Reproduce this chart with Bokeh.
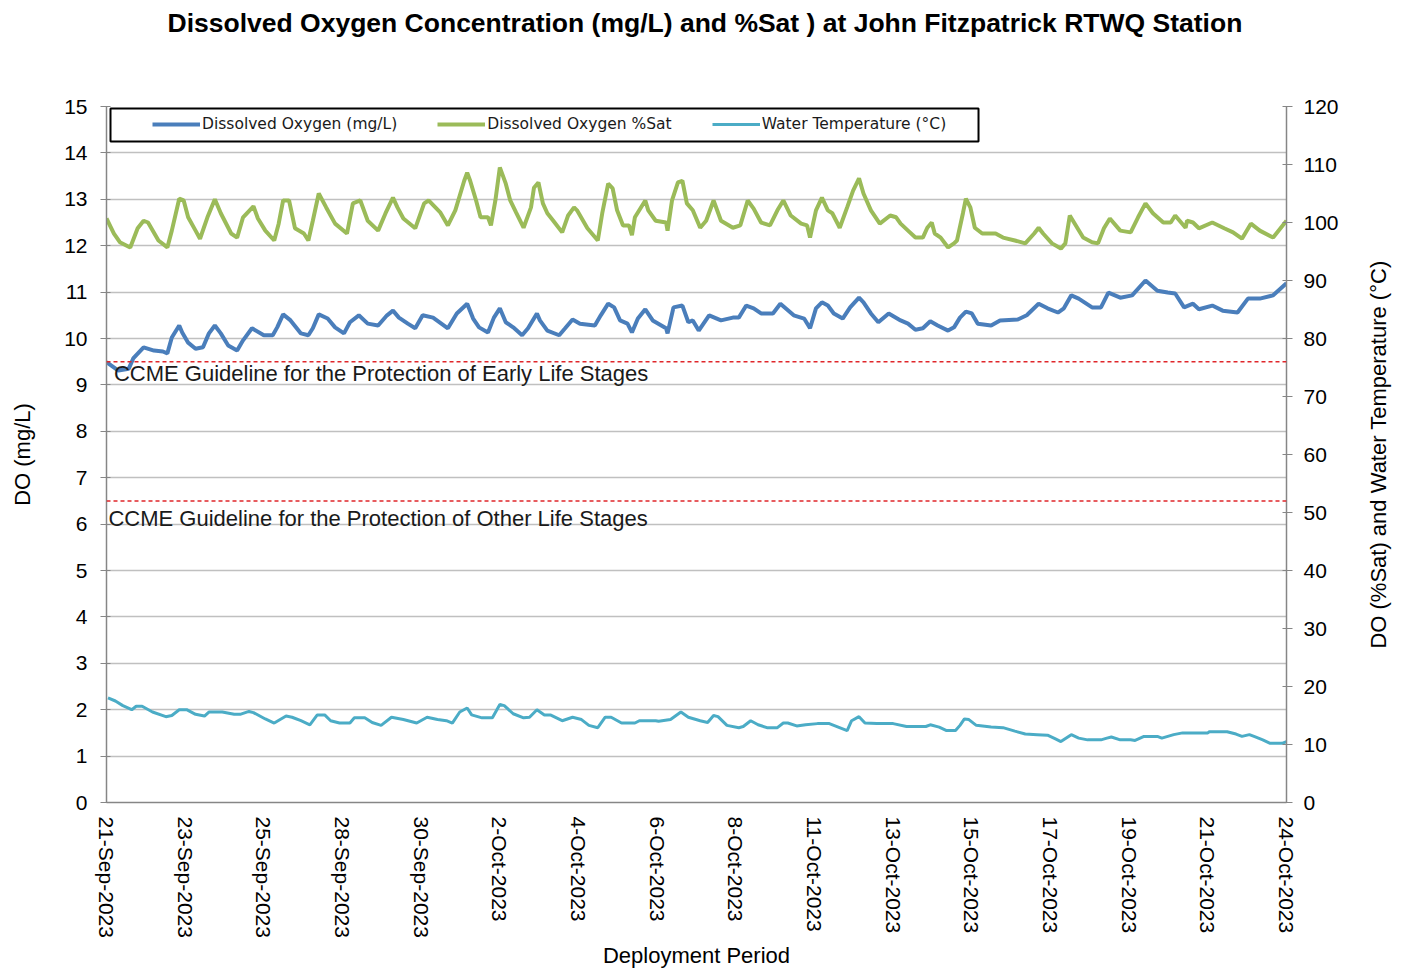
import math
from bokeh.plotting import figure
from bokeh.layouts import row
from bokeh.models import (Range1d, LinearAxis, FixedTicker, Span, Label, Legend,
                          LegendItem, BoxAnnotation, Title)
from bokeh.embed import file_html
from bokeh.resources import INLINE

# ---------------- data ----------------
TITLE = "Dissolved Oxygen Concentration (mg/L) and %Sat ) at John Fitzpatrick RTWQ Station"
X_TITLE = "Deployment Period"
Y_LEFT_TITLE = "DO (mg/L)"
Y_RIGHT_TITLE = "DO (%Sat) and Water Temperature (°C)"

tick_hours = [0, 53, 106, 159, 212, 265, 318, 371, 424, 477, 530, 583, 636, 689, 742, 795]
tick_labels = ["21-Sep-2023", "23-Sep-2023", "25-Sep-2023", "28-Sep-2023", "30-Sep-2023",
               "2-Oct-2023", "4-Oct-2023", "6-Oct-2023", "8-Oct-2023", "11-Oct-2023",
               "13-Oct-2023", "15-Oct-2023", "17-Oct-2023", "19-Oct-2023", "21-Oct-2023",
               "24-Oct-2023"]

early_guideline = 9.5
other_guideline = 6.5
early_text = "CCME Guideline for the Protection of Early Life Stages"
other_text = "CCME Guideline for the Protection of Other Life Stages"

do_hours = [0, 8, 15, 18, 25, 32, 38, 41, 44, 49, 51, 55, 60, 65, 69, 73, 77, 82, 88, 92,
            98, 106, 112, 115, 119, 124, 131, 136, 139, 143, 149, 154, 160, 164, 170, 176, 183, 189, 193, 197,
            203, 208, 213, 220, 230, 236, 243, 247, 251, 257, 261, 265,
            269, 274, 280, 284, 290, 292, 297, 305, 309, 314, 319, 329, 333, 338, 342, 346, 351, 354, 358, 363,
            368, 377, 378, 382, 388, 392, 395, 399, 406, 414, 422, 426, 431, 436, 441, 449, 454, 463, 470, 474,
            478, 482, 486, 490, 496, 501, 507, 510, 515, 520, 527, 535,
            540, 545, 550, 555, 560, 567, 571, 575, 579, 583, 587, 596, 602, 614, 620, 628, 634, 641, 645, 650,
            655, 664, 670, 675, 683, 691, 700, 708, 715, 720, 726, 732, 736, 745, 752, 762, 769, 777, 786, 795]
do_mgL = [9.49, 9.31, 9.35, 9.57, 9.81, 9.74, 9.72, 9.68, 10.02, 10.28, 10.13, 9.91, 9.78, 9.81, 10.11, 10.28, 10.11, 9.85, 9.74, 9.96,
          10.22, 10.07, 10.07, 10.24, 10.52, 10.39, 10.11, 10.07, 10.22, 10.52, 10.43, 10.24, 10.11, 10.35, 10.50, 10.32, 10.28, 10.50, 10.60, 10.45,
          10.32, 10.22, 10.50, 10.45, 10.22, 10.54, 10.75, 10.43, 10.24, 10.13, 10.45, 10.65,
          10.35, 10.24, 10.07, 10.22, 10.54, 10.39, 10.17, 10.07, 10.22, 10.41, 10.32, 10.28, 10.50, 10.75, 10.67, 10.39, 10.32, 10.13, 10.43, 10.63,
          10.39, 10.22, 10.11, 10.67, 10.71, 10.35, 10.39, 10.17, 10.50, 10.39, 10.45, 10.45, 10.71, 10.65, 10.54, 10.54, 10.75, 10.50, 10.43, 10.22,
          10.65, 10.78, 10.71, 10.54, 10.43, 10.67, 10.88, 10.78, 10.54, 10.35, 10.54, 10.39,
          10.32, 10.19, 10.22, 10.37, 10.28, 10.17, 10.24, 10.45, 10.58, 10.54, 10.32, 10.28, 10.39, 10.41, 10.50, 10.75, 10.65, 10.56, 10.65, 10.93,
          10.86, 10.67, 10.67, 10.99, 10.88, 10.93, 11.25, 11.03, 10.99, 10.97, 10.67, 10.75, 10.63, 10.71, 10.60, 10.56, 10.86, 10.86, 10.93, 11.19]

sat_hours = [0, 5, 9, 16, 21, 25, 28, 35, 41, 44, 49, 52, 55, 60, 63, 68, 73, 77, 84, 88,
             92, 99, 102, 107, 113, 116, 119, 123, 127, 133, 136, 139, 143, 148, 154, 162, 166, 171, 176, 183,
             188, 193, 196, 200, 208, 214, 217, 225, 230, 235, 241, 243, 245, 249, 252, 257, 259, 262, 265,
             269, 272, 276, 281, 286, 288, 291, 294, 297, 301, 307, 311, 315, 317, 324, 331, 334, 338, 341, 344,
             348, 352, 354, 356, 363, 365, 370, 377, 378, 381, 385, 388, 391, 395, 400, 404, 409, 414, 422, 427,
             432, 436, 441, 447, 452, 456, 461, 468, 472, 474, 478, 482, 486, 489, 494, 499, 503, 507, 510, 515,
             521, 528, 532, 535,
             540, 545, 550, 553, 556, 558, 562, 567, 571, 573, 577, 579, 582, 585, 590, 594, 599, 604, 612, 619,
             625, 628, 631, 637, 643, 646, 649, 654, 658, 664, 668, 672, 676, 683, 690, 695, 700, 705, 712, 717,
             720, 724, 727, 728, 732, 736, 745, 753, 759, 765, 771, 777, 786, 795]
sat_pct = [100.7, 98.1, 96.6, 95.7, 99.0, 100.3, 100.0, 96.9, 95.7, 98.6, 104.1, 103.8, 100.9, 98.6, 97.2, 100.9, 104.0, 101.6, 98.1, 97.4,
           100.9, 102.8, 100.7, 98.6, 96.9, 99.8, 103.8, 103.8, 99.0, 98.1, 96.9, 100.3, 105.0, 102.6, 99.8, 98.1, 103.3, 103.8, 100.3, 98.6,
           101.6, 104.3, 102.6, 100.7, 99.0, 103.3, 103.8, 101.7, 99.5, 102.1, 107.2, 108.6, 107.2, 103.8, 100.9, 100.9, 99.5, 103.8, 109.5,
           106.7, 103.8, 101.7, 99.1, 102.6, 106.0, 106.9, 103.3, 101.6, 100.3, 98.3, 101.2, 102.6, 102.1, 99.0, 96.9, 101.6, 106.7, 105.9, 102.1,
           99.5, 99.5, 97.8, 100.9, 103.8, 102.1, 100.3, 100.0, 98.6, 103.8, 106.9, 107.2, 103.3, 102.1, 99.1, 100.3, 103.8, 100.3, 99.1, 99.5,
           103.8, 102.4, 100.0, 99.5, 102.1, 103.8, 101.2, 99.8, 99.5, 97.4, 102.1, 104.3, 102.1, 101.6, 99.1, 102.6, 105.5, 107.6, 105.0, 102.1,
           99.8, 101.2, 100.9, 99.8,
           98.6, 97.4, 97.4, 99.1, 100.0, 98.1, 97.4, 95.7, 96.4, 96.9, 101.6, 104.1, 102.6, 99.1, 98.1, 98.1, 98.1, 97.4, 96.9, 96.4,
           98.1, 99.1, 98.1, 96.4, 95.5, 96.4, 101.2, 99.1, 97.4, 96.6, 96.4, 99.0, 100.7, 98.6, 98.3, 100.9, 103.3, 101.6, 100.0, 100.0,
           101.2, 100.0, 99.1, 100.3, 100.0, 99.0, 100.0, 99.0, 98.3, 97.2, 99.8, 98.6, 97.4, 100.3]

temp_hours = [1, 6, 11, 17, 20, 24, 31, 40, 44, 49, 54, 60, 66, 69, 78, 86, 90, 96, 99, 107,
              113, 121, 125, 131, 137, 142, 147, 151, 157, 164, 167, 174, 179, 185, 192, 200, 209, 216, 223, 229,
              233, 238, 243, 246, 253, 260, 265, 268, 274, 281, 285, 290, 295, 299, 307, 314, 320, 325, 331, 336,
              340, 347, 356, 359, 370, 372, 380, 387, 392, 400,
              405, 409, 412, 418, 426, 429, 434, 439, 445, 452, 456, 459, 465, 471, 479, 487, 493, 499, 502, 507,
              511, 519, 530, 539, 552, 555, 561, 566, 572, 575, 578, 581, 586, 596, 604, 612, 619, 627, 634, 639,
              643, 650, 655, 661, 670, 674, 677, 683, 690, 693, 699, 708, 711, 719, 725, 742, 743, 755, 761, 765,
              770, 774, 779, 784, 792, 795]
temp_c = [18.05, 17.5, 16.7, 16.0, 16.6, 16.6, 15.6, 14.8, 15.0, 16.0, 16.0, 15.2, 14.9, 15.6, 15.6, 15.2, 15.2, 15.7, 15.5, 14.4,
          13.7, 14.9, 14.7, 14.1, 13.4, 15.1, 15.1, 14.1, 13.7, 13.7, 14.6, 14.6, 13.8, 13.3, 14.7, 14.3, 13.7, 14.7, 14.3, 14.1,
          13.7, 15.6, 16.3, 15.1, 14.6, 14.6, 16.9, 16.7, 15.3, 14.6, 14.7, 16.0, 15.1, 15.1, 14.1, 14.7, 14.3, 13.3, 12.9, 14.7,
          14.7, 13.7, 13.7, 14.1, 14.1, 14.0, 14.3, 15.6, 14.7, 14.1,
          13.8, 15.0, 14.8, 13.3, 12.9, 13.1, 14.1, 13.4, 12.9, 12.9, 13.7, 13.7, 13.2, 13.4, 13.6, 13.6, 13.0, 12.4, 14.1, 14.8,
          13.7, 13.6, 13.6, 13.1, 13.1, 13.4, 13.0, 12.4, 12.4, 13.3, 14.4, 14.3, 13.3, 13.0, 12.9, 12.3, 11.8, 11.7, 11.6, 11.0,
          10.5, 11.7, 11.1, 10.8, 10.8, 11.1, 11.3, 10.8, 10.8, 10.7, 11.4, 11.4, 11.1, 11.7, 12.0, 12.0, 12.2, 12.2, 11.8, 11.4,
          11.7, 11.3, 10.8, 10.2, 10.2, 10.5]

# ---------------- styles ----------------
FONT = "Liberation Sans"
AXIS_GREY = "#868686"
GRID_GREY = "#c0c0c0"
C_DO = "#4a7ebb"
C_SAT = "#9bbb59"
C_TEMP = "#4bacc6"
C_GUIDE = "#e0262a"

p = figure(width=1346, height=971, x_range=Range1d(0, 795), y_range=Range1d(0, 15),
           output_backend="svg", toolbar_location=None, title=None,
           min_border_left=106, min_border_right=60, min_border_top=106, min_border_bottom=169)
p.extra_y_ranges = {"right": Range1d(0, 120)}
p.outline_line_color = None
p.background_fill_color = "white"
p.border_fill_color = "white"

# title: a blank spacer next to the frame, then the real title above it
p.add_layout(Title(text=" ", text_font_size="10px", standoff=54), "above")
p.add_layout(Title(text=TITLE, align="left", vertical_align="top", standoff=0, offset=61,
                   text_font=FONT, text_font_size="26.5px", text_font_style="bold",
                   text_color="black"), "above")

# grid
p.xgrid.visible = False
p.ygrid.grid_line_color = GRID_GREY
p.ygrid.grid_line_width = 1.5

# bottom axis
xa = p.xaxis[0]
xa.ticker = FixedTicker(ticks=tick_hours)
xa.major_label_overrides = {h: lbl for h, lbl in zip(tick_hours, tick_labels)}
xa.major_label_orientation = -math.pi / 2
xa.major_tick_in = 0
xa.major_tick_out = 0
xa.minor_tick_in = 0
xa.minor_tick_out = 0
xa.axis_line_color = AXIS_GREY
xa.axis_line_width = 1.5
xa.major_label_standoff = 14
xa.major_label_text_font = FONT
xa.major_label_text_font_size = "21px"
xa.major_label_text_color = "black"
xa.axis_label = X_TITLE
xa.axis_label_standoff = 2
xa.axis_label_text_font = FONT
xa.axis_label_text_font_size = "22px"
xa.axis_label_text_font_style = "normal"
xa.axis_label_text_color = "black"

# left axis
ya = p.yaxis[0]
ya.ticker = FixedTicker(ticks=list(range(0, 16)))
ya.major_tick_in = 4
ya.major_tick_out = 6
ya.minor_tick_in = 0
ya.minor_tick_out = 0
ya.major_tick_line_color = AXIS_GREY
ya.axis_line_color = AXIS_GREY
ya.axis_line_width = 1.5
ya.major_label_standoff = 13
ya.major_label_text_font = FONT
ya.major_label_text_font_size = "21px"
ya.major_label_text_color = "black"
ya.axis_label = Y_LEFT_TITLE
ya.axis_label_standoff = 26
ya.axis_label_text_font = FONT
ya.axis_label_text_font_size = "22px"
ya.axis_label_text_font_style = "normal"
ya.axis_label_text_color = "black"

# right axis (ticks + labels)
ra = LinearAxis(y_range_name="right", ticker=FixedTicker(ticks=list(range(0, 121, 10))))
ra.major_tick_in = 4
ra.major_tick_out = 6
ra.minor_tick_in = 0
ra.minor_tick_out = 0
ra.major_tick_line_color = AXIS_GREY
ra.axis_line_color = AXIS_GREY
ra.axis_line_width = 1.5
ra.major_label_standoff = 11
ra.major_label_text_font = FONT
ra.major_label_text_font_size = "21px"
ra.major_label_text_color = "black"
p.add_layout(ra, "right")

# guidelines
p.add_layout(Span(location=early_guideline, dimension="width", line_color=C_GUIDE,
                  line_dash="4 3", line_width=1.5))
p.add_layout(Span(location=other_guideline, dimension="width", line_color=C_GUIDE,
                  line_dash="4 3", line_width=1.5))

# series
r_temp = p.line(temp_hours, temp_c, y_range_name="right", line_color=C_TEMP, line_width=3)
r_sat = p.line(sat_hours, sat_pct, y_range_name="right", line_color=C_SAT, line_width=4)
r_do = p.line(do_hours, do_mgL, line_color=C_DO, line_width=4)

# texts
p.add_layout(Label(x=5, y=9.25, text=early_text, text_baseline="middle", text_align="left",
                   text_font=FONT, text_font_size="22px", text_color="#1a1a1a"))
p.add_layout(Label(x=1.3, y=6.12, text=other_text, text_baseline="middle", text_align="left",
                   text_font=FONT, text_font_size="22px", text_color="#1a1a1a"))

# legend frame + legend
p.add_layout(BoxAnnotation(left=2.7, right=587.5, top=14.957, bottom=14.246,
                           fill_alpha=0, line_color="black", line_alpha=1.0, line_width=2))
legend = Legend(items=[LegendItem(label="Dissolved Oxygen (mg/L)", renderers=[r_do]),
                       LegendItem(label="Dissolved Oxygen %Sat", renderers=[r_sat]),
                       LegendItem(label="Water Temperature (°C)", renderers=[r_temp])],
                orientation="horizontal", location=(46, 669), padding=0, margin=0,
                spacing=40, glyph_width=48, glyph_height=18, label_height=18,
                label_standoff=2, border_line_alpha=0, background_fill_alpha=0,
                label_text_font="DejaVu Sans", label_text_font_size="15.5px",
                label_text_color="#1a1a1a")
p.add_layout(legend)

# narrow companion figure carrying the right-hand axis title (reads bottom-to-top)
p2 = figure(width=54, height=971, x_range=Range1d(0, 1), y_range=Range1d(0, 1),
            output_backend="svg", toolbar_location=None, title=None,
            min_border_left=44, min_border_right=0, min_border_top=106, min_border_bottom=169)
p2.outline_line_color = None
p2.grid.visible = False
p2.xaxis.visible = False
ta = p2.yaxis[0]
ta.ticker = FixedTicker(ticks=[])
ta.axis_line_color = None
ta.major_tick_line_color = None
ta.minor_tick_line_color = None
ta.axis_label = Y_RIGHT_TITLE
ta.axis_label_standoff = 0
ta.axis_label_text_font = FONT
ta.axis_label_text_font_size = "22px"
ta.axis_label_text_font_style = "normal"
ta.axis_label_text_color = "black"

layout = row(p, p2)
open("out.html", "w").write(file_html(layout, INLINE))
